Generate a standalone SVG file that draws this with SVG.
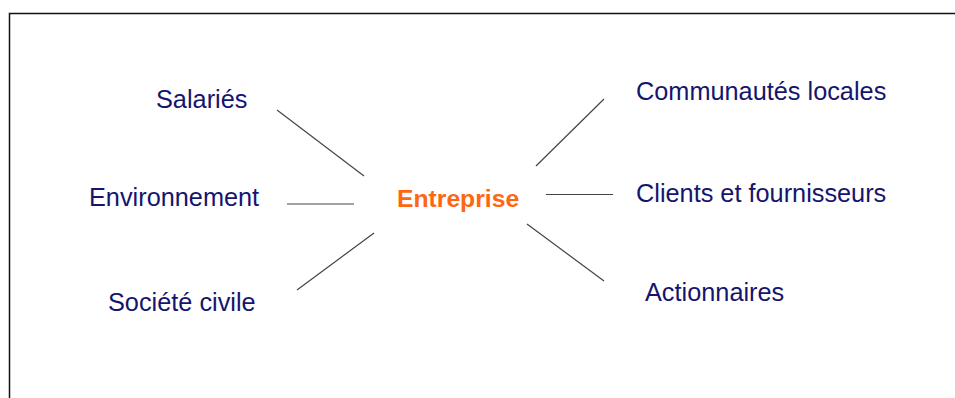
<svg xmlns="http://www.w3.org/2000/svg" width="955" height="398" viewBox="0 0 955 398">
<style>
.t{font-family:"Liberation Sans",Arial,sans-serif;font-size:25.3px;fill:#15156e}
.c{font-family:"Liberation Sans",Arial,sans-serif;font-size:24.7px;font-weight:bold;fill:#ff6611}
.l{stroke:#444;stroke-width:1.2;fill:none}
</style>
<rect width="955" height="398" fill="#fff"/>
<path d="M9.5 398 V13.5 H955" stroke="#111" stroke-width="1.5" fill="none"/>
<g id="connectors">
<line class="l" x1="277" y1="110" x2="364" y2="176"/>
<line class="l" x1="287" y1="204" x2="354" y2="204"/>
<line class="l" x1="297" y1="290" x2="374" y2="233"/>
<line class="l" x1="604" y1="99" x2="536" y2="166"/>
<line class="l" x1="546" y1="194.5" x2="613" y2="194.5"/>
<line class="l" x1="527" y1="224" x2="604" y2="281"/>
</g>
<g id="entreprise"><text class="c" x="397" y="207">Entreprise</text></g>
<g id="salaries"><text class="t" x="156" y="108">Salariés</text></g>
<g id="environnement"><text class="t" x="89" y="206">Environnement</text></g>
<g id="societe"><text class="t" x="108" y="311">Société civile</text></g>
<g id="communautes"><text class="t" x="636" y="100">Communautés locales</text></g>
<g id="clients"><text class="t" x="636" y="202">Clients et fournisseurs</text></g>
<g id="actionnaires"><text class="t" x="645" y="301">Actionnaires</text></g>
</svg>
